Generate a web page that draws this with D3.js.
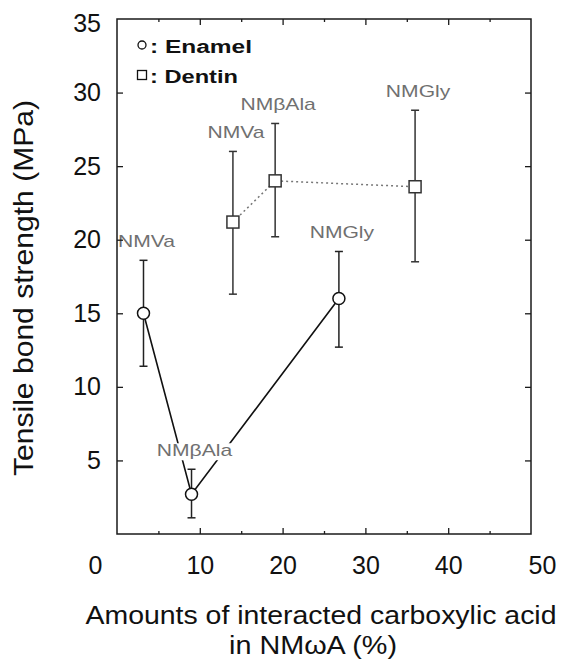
<!DOCTYPE html>
<html>
<head>
<meta charset="utf-8">
<script src="https://cdn.jsdelivr.net/npm/d3@7"></script>
<style>
  body { margin: 0; background: #fff; }
  text { font-family: "Liberation Sans", Arial, sans-serif; }
</style>
</head>
<body>
<svg id="chart" width="562" height="661"></svg>
<script>
// Tick labels
const xTickValues = [0, 10, 20, 30, 40, 50];
const yTickValues = [5, 10, 15, 20, 25, 30, 35];

// Monomer labels per point
const enamelAgents = ["NMVa", "NMβAla", "NMGly"];
const dentinAgents = ["NMVa", "NMβAla", "NMGly"];

// Enamel: interacted carboxylic acid (%) vs tensile bond strength (MPa)
const enamelX    = [3.2, 9.0, 26.8];
const enamelMean = [15.0, 2.7, 16.0];
const enamelLow  = [11.4, 1.1, 12.7];
const enamelHigh = [18.6, 4.4, 19.2];

// Dentin
const dentinX    = [14.0, 19.1, 36.0];
const dentinMean = [21.2, 24.0, 23.6];
const dentinLow  = [16.3, 20.2, 18.5];
const dentinHigh = [26.0, 27.9, 28.8];

const svg = d3.select("#chart");
const x = d3.scaleLinear().domain([0, 50]).range([117, 531]);
const y = d3.scaleLinear().domain([0, 35]).range([534, 19]);

const enamel = enamelX.map((v, i) => ({x: v, m: enamelMean[i], lo: enamelLow[i], hi: enamelHigh[i], label: enamelAgents[i]}));
const dentin = dentinX.map((v, i) => ({x: v, m: dentinMean[i], lo: dentinLow[i], hi: dentinHigh[i], label: dentinAgents[i]}));

// stretch text horizontally to width w (or by factor k), centred on its x
function stretchCentered(sel, k, w) {
  sel.each(function() {
    const t = d3.select(this);
    const nat = this.getComputedTextLength();
    const target = w != null ? w : nat * k;
    const cx = +t.attr("x");
    t.attr("text-anchor", "start")
     .attr("x", cx - target / 2)
     .attr("textLength", target)
     .attr("lengthAdjust", "spacingAndGlyphs");
  });
}

// connecting lines
const line = d3.line().x(d => x(d.x)).y(d => y(d.m));
svg.append("path").datum(enamel)
  .attr("d", line).attr("fill", "none")
  .attr("stroke", "#111").attr("stroke-width", 1.6);
svg.append("path").datum(dentin)
  .attr("d", line).attr("fill", "none")
  .attr("stroke", "#777").attr("stroke-width", 1.5)
  .attr("stroke-dasharray", "2,3");

// point labels with white backing
const labelG = svg.append("g");
function drawLabels(data) {
  data.forEach(d => {
    const g = labelG.append("g");
    const t = g.append("text")
      .attr("x", x(d.x) + 3)
      .attr("y", y(d.hi) - 13)
      .attr("font-size", 17)
      .attr("fill", "#707070")
      .text(d.label);
    stretchCentered(t, 1.24);
    const bb = t.node().getBBox();
    g.insert("rect", "text")
      .attr("x", bb.x - 1).attr("y", bb.y + 2)
      .attr("width", bb.width + 2).attr("height", bb.height - 2)
      .attr("fill", "#fff");
  });
}
drawLabels(enamel);
drawLabels(dentin);

// error bars
function drawErrors(data, color) {
  const g = svg.append("g").attr("stroke", color).attr("stroke-width", 1.5);
  data.forEach(d => {
    const cx = x(d.x);
    g.append("line").attr("x1", cx).attr("x2", cx).attr("y1", y(d.lo)).attr("y2", y(d.hi));
    [d.lo, d.hi].forEach(v => {
      g.append("line").attr("x1", cx - 4).attr("x2", cx + 4).attr("y1", y(v)).attr("y2", y(v));
    });
  });
}
drawErrors(enamel, "#222");
drawErrors(dentin, "#333");

// markers
svg.append("g").selectAll("circle").data(enamel).join("circle")
  .attr("cx", d => x(d.x)).attr("cy", d => y(d.m)).attr("r", 6)
  .attr("fill", "#fff").attr("stroke", "#111").attr("stroke-width", 1.5);
svg.append("g").selectAll("rect").data(dentin).join("rect")
  .attr("x", d => x(d.x) - 6).attr("y", d => y(d.m) - 6)
  .attr("width", 12).attr("height", 12)
  .attr("fill", "#fff").attr("stroke", "#333").attr("stroke-width", 1.5);

// frame and inward ticks
const frame = svg.append("g");
const x0 = x(0), x1 = x(50), yT = y(35), yB = y(0);
frame.append("rect").attr("x", x0).attr("y", yT).attr("width", x1 - x0).attr("height", yB - yT)
  .attr("fill", "none").attr("stroke", "#1a1a1a").attr("stroke-width", 1.5);

const majorX = [10, 20, 30, 40];
const minorX = [5, 15, 25, 35, 45];
const yMarks = [5, 10, 15, 20, 25, 30];
function tickAxis(axis, pos) {
  const g = frame.append("g").attr("transform", pos).call(axis);
  g.select(".domain").remove();
  g.selectAll("text").remove();
  g.selectAll("line").attr("stroke", "#1a1a1a").attr("stroke-width", 1.3);
}
tickAxis(d3.axisBottom(x).tickValues(majorX).tickSize(-6), `translate(0,${yB})`);
tickAxis(d3.axisBottom(x).tickValues(minorX).tickSize(-3), `translate(0,${yB})`);
tickAxis(d3.axisTop(x).tickValues(majorX).tickSize(-6), `translate(0,${yT})`);
tickAxis(d3.axisTop(x).tickValues(minorX).tickSize(-3), `translate(0,${yT})`);
tickAxis(d3.axisLeft(y).tickValues(yMarks).tickSize(-6), `translate(${x0},0)`);
tickAxis(d3.axisRight(y).tickValues(yMarks).tickSize(-6), `translate(${x1},0)`);

// tick labels
const xLab = svg.append("g").attr("transform", `translate(0,${yB})`)
  .call(d3.axisBottom(x).tickValues(xTickValues).tickSize(0).tickPadding(22).tickFormat(d3.format("d")));
xLab.select(".domain").remove();
xLab.selectAll("text").attr("font-size", 25).attr("font-family", null).attr("fill", "#111")
  .attr("dx", d => d === 0 ? -22 : (d === 50 ? 11 : 0));

const yLab = svg.append("g").attr("transform", `translate(${x0},0)`)
  .call(d3.axisLeft(y).tickValues(yTickValues).tickSize(0).tickPadding(16).tickFormat(d3.format("d")));
yLab.select(".domain").remove();
yLab.selectAll("text").attr("font-size", 25).attr("font-family", null).attr("fill", "#111")
  .attr("dy", d => d === 35 ? "0.5em" : "0.32em");

// legend
const legend = svg.append("g");
legend.append("circle").attr("cx", 142).attr("cy", 45).attr("r", 4)
  .attr("fill", "#fff").attr("stroke", "#111").attr("stroke-width", 1.3);
legend.append("rect").attr("x", 137.5).attr("y", 70.5).attr("width", 9).attr("height", 9)
  .attr("fill", "#fff").attr("stroke", "#111").attr("stroke-width", 1.3);
const legText = [[": Enamel", 53, 102], [": Dentin", 83, 88]];
legText.forEach(([s, by, w]) => {
  legend.append("text").attr("x", 150).attr("y", by)
    .attr("font-size", 18).attr("fill", "#111").attr("font-weight", "bold")
    .attr("textLength", w).attr("lengthAdjust", "spacingAndGlyphs")
    .text(s);
});

// axis titles
svg.append("text")
  .attr("transform", `translate(33,288) rotate(-90)`)
  .attr("x", 0).attr("y", 0)
  .attr("font-size", 28).attr("fill", "#111")
  .text("Tensile bond strength (MPa)")
  .call(s => stretchCentered(s, 1, 376));
svg.append("text").attr("x", 321).attr("y", 624)
  .attr("font-size", 25).attr("fill", "#111")
  .text("Amounts of interacted carboxylic acid")
  .call(s => stretchCentered(s, 1, 471));
svg.append("text").attr("x", 313).attr("y", 654)
  .attr("font-size", 25).attr("fill", "#111")
  .text("in NMωA (%)")
  .call(s => stretchCentered(s, 1, 168));
</script>
</body>
</html>
